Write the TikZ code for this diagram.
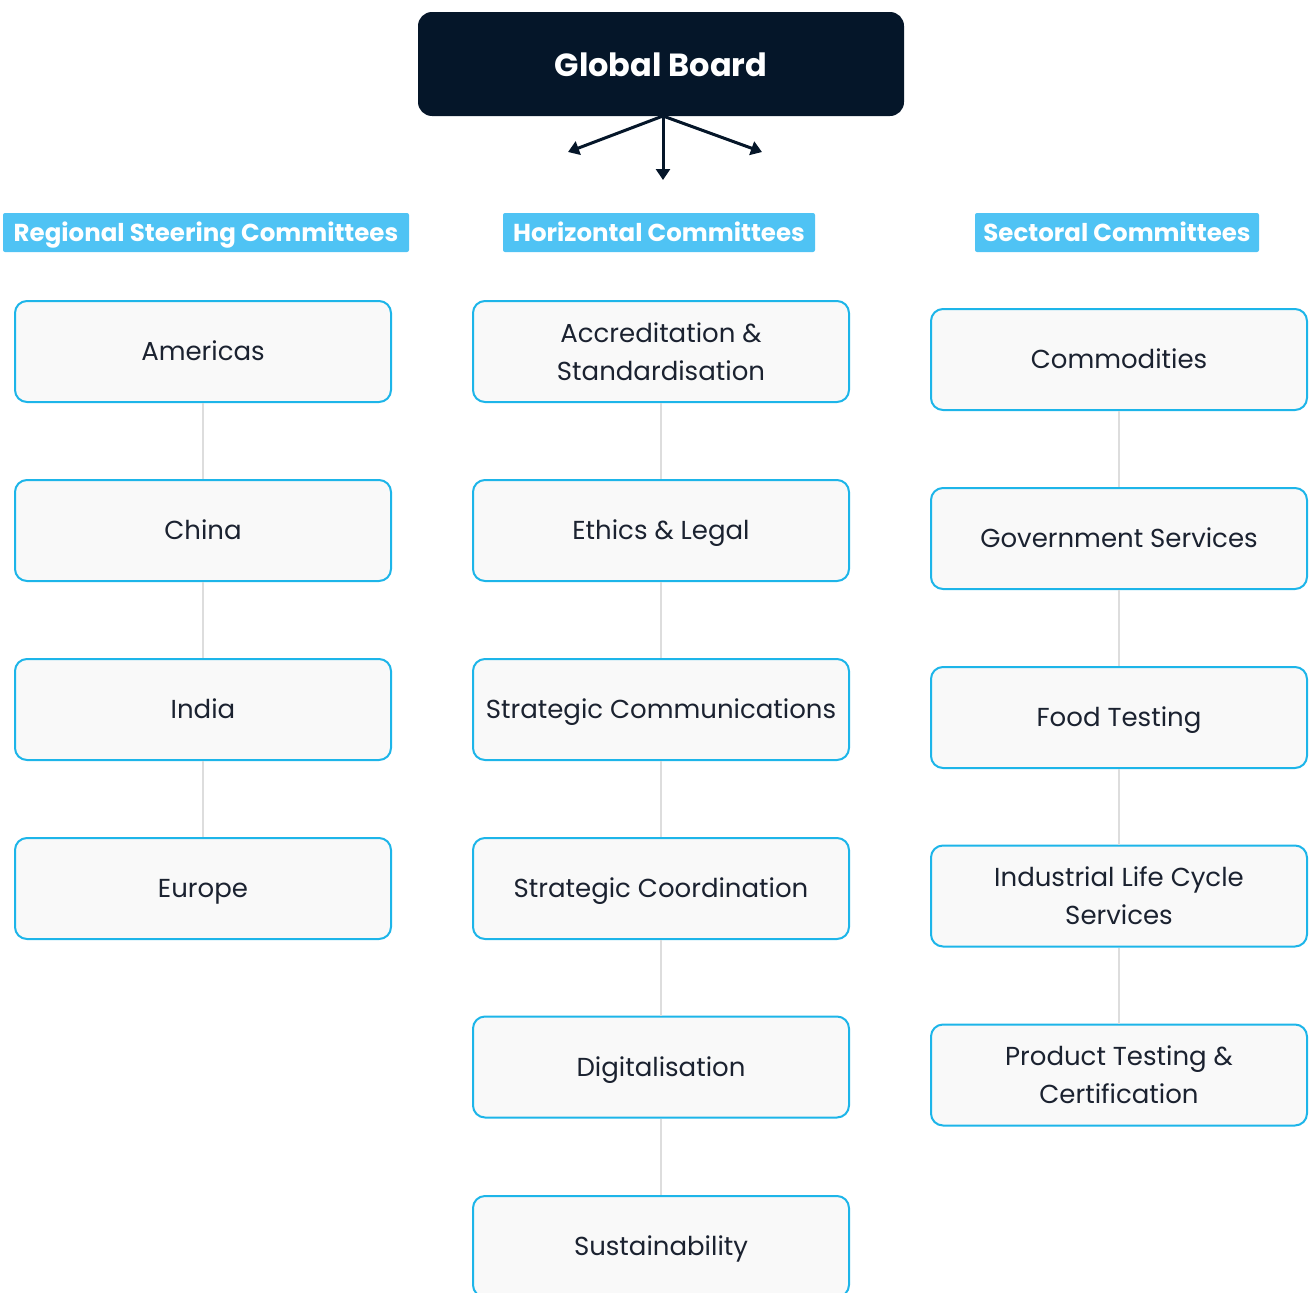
\documentclass[tikz,border=0pt]{standalone}
\usepackage{fontspec}
\setmainfont{Poppins}
\usetikzlibrary{arrows.meta}
\definecolor{navy}{HTML}{051629}
\definecolor{hdr}{HTML}{4FC3F4}
\definecolor{bord}{HTML}{1DB5E9}
\definecolor{boxfill}{HTML}{F9F9F9}
\definecolor{txt}{HTML}{1B2230}
\definecolor{conn}{HTML}{DDDDDD}
\begin{document}
\begin{tikzpicture}[x=1pt,y=-1pt,
  board/.style={fill=navy, rounded corners=14pt, minimum width=486pt, minimum height=104pt, text=white, font=\fontsize{32}{38}\selectfont\bfseries, inner sep=0pt, text height=27pt, text depth=2pt},
  hdrbox/.style={fill=hdr, rounded corners=2pt, minimum height=39pt, text=white, font=\fontsize{24.5}{28}\selectfont\bfseries, inner sep=0pt, text height=20pt, text depth=2.5pt},
  itembase/.style={draw=bord, line width=2pt, fill=boxfill, rounded corners=12pt, minimum width=376pt, minimum height=101pt, text=txt, font=\fontsize{26}{38}\selectfont, align=center, inner sep=0pt},
  item/.style={itembase, text height=21pt, text depth=3pt},
  itemtwo/.style={itembase},
  link/.style={draw=conn, line width=2pt},
  arr/.style={draw=navy, line width=3pt, -{Triangle[width=14pt,length=11pt]}}
]
\useasboundingbox (0,0) rectangle (1312,1293);
\clip (0,0) rectangle (1312,1293);

\node[board] (gb) at (661,64) {Global Board};
\coordinate (src) at (663,116);
\coordinate (aL) at (568,152);
\coordinate (aM) at (663,180);
\coordinate (aR) at (762,152);
\draw[arr] (src) -- (aL);
\draw[arr] (src) -- (aM);
\draw[arr] (src) -- (aR);

\node[hdrbox, minimum width=406pt] (h1) at (206,232.5) {Regional Steering Committees};
\node[hdrbox, minimum width=312pt] (h2) at (659,232.5) {Horizontal Committees};
\node[hdrbox, minimum width=284pt] (h3) at (1117,232.5) {Sectoral Committees};

% left column
\node[item] (l1) at (203,351.5) {Americas};
\node[item] (l2) at (203,530.5) {China};
\node[item] (l3) at (203,709.5) {India};
\node[item] (l4) at (203,888.5) {Europe};

% middle column
\node[itemtwo] (m1) at (661,351.5) {Accreditation \&\\Standardisation};
\node[item] (m2) at (661,530.5) {Ethics \& Legal};
\node[item] (m3) at (661,709.5) {Strategic Communications};
\node[item] (m4) at (661,888.5) {Strategic Coordination};
\node[item] (m5) at (661,1067) {Digitalisation};
\node[item] (m6) at (661,1246.5) {Sustainability};

% right column
\node[item] (r1) at (1119,359.5) {Commodities};
\node[item] (r2) at (1119,538.5) {Government Services};
\node[item] (r3) at (1119,717.5) {Food Testing};
\node[itemtwo] (r4) at (1119,896) {Industrial Life Cycle\\Services};
\node[itemtwo] (r5) at (1119,1075) {Product Testing \&\\Certification};

\draw[link] (l1) -- (l2);
\draw[link] (l2) -- (l3);
\draw[link] (l3) -- (l4);
\draw[link] (m1) -- (m2);
\draw[link] (m2) -- (m3);
\draw[link] (m3) -- (m4);
\draw[link] (m4) -- (m5);
\draw[link] (m5) -- (m6);
\draw[link] (r1) -- (r2);
\draw[link] (r2) -- (r3);
\draw[link] (r3) -- (r4);
\draw[link] (r4) -- (r5);
\end{tikzpicture}
\end{document}
